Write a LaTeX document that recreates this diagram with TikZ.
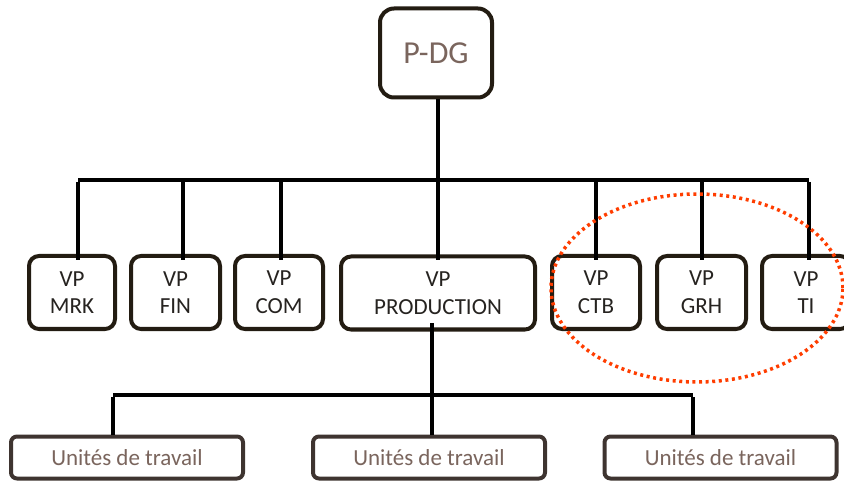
\documentclass[tikz,border=0pt]{standalone}
\usepackage{fontspec}
\setmainfont{Carlito}
\definecolor{boxedge}{HTML}{231C12}
\definecolor{unitedge}{HTML}{3E3430}
\definecolor{vptext}{HTML}{262320}
\definecolor{browntext}{HTML}{7A655D}
\definecolor{ringred}{HTML}{FF3D00}
\tikzset{
  orgbox/.style={draw=boxedge, line width=4pt, rounded corners=10pt, fill=white,
    inner sep=0pt, align=center, text=vptext,
    font=\fontsize{23}{27.6}\selectfont},
  vpbox/.style={orgbox, minimum height=73pt},
  topbox/.style={orgbox, rounded corners=14pt, minimum width=112pt, minimum height=89pt,
    text=browntext, font=\fontsize{32}{38}\selectfont},
  unitbox/.style={orgbox, draw=unitedge, rounded corners=6pt, minimum width=232pt,
    minimum height=42pt, text=browntext},
  wire/.style={line width=4pt, draw=black},
}
\begin{document}
\begin{tikzpicture}[x=1pt, y=-1pt]
  \useasboundingbox (0,0) rectangle (844,481);

  % president
  \node[topbox] (pdg) at (436,53) {P-DG};

  % vice-presidents
  \node[vpbox, minimum width=86pt]  (mrk)  at (72,292.5)    {VP\\MRK};
  \node[vpbox, minimum width=89pt]  (fin)  at (175.5,292.5) {VP\\FIN};
  \node[vpbox, minimum width=88pt]  (com)  at (279,292.5)   {VP\\COM};
  \node[vpbox, minimum width=194pt] (prod) at (438,293)     {VP\\PRODUCTION};
  \node[vpbox, minimum width=88pt]  (ctb)  at (596,292.5)   {VP\\CTB};
  \node[vpbox, minimum width=89pt]  (grh)  at (701.5,292.5) {VP\\GRH};
  \node[vpbox, minimum width=88pt]  (ti)   at (806,292.5)   {VP\\TI};

  % work units
  \node[unitbox] (u1) at (127,457.5)   {Unités de travail};
  \node[unitbox] (u2) at (429,457.5)   {Unités de travail};
  \node[unitbox] (u3) at (720.5,457.5) {Unités de travail};

  % upper bus
  \coordinate (bm) at (438,180);
  \coordinate (b1) at (78,180);
  \coordinate (b2) at (183,180);
  \coordinate (b3) at (281,180);
  \coordinate (b5) at (596,180);
  \coordinate (b6) at (702,180);
  \coordinate (b7) at (809,180);
  \draw[wire] (pdg.south -| bm) -- (bm);
  \draw[wire] (b1) -- (b7);
  \foreach \b/\n in {b1/mrk, b2/fin, b3/com, bm/prod, b5/ctb, b6/grh, b7/ti}
    \draw[wire] ([yshift=-2pt]\b) -- ([yshift=-6pt]\b |- \n.north);

  % lower bus
  \coordinate (lm) at (432,395);
  \coordinate (l1) at (113,395);
  \coordinate (l3) at (693,395);
  \draw[wire] ([yshift=8pt]prod.south -| lm) -- (lm);
  \draw[wire] (l1) -- (l3);
  \foreach \b/\n in {l1/u1, lm/u2, l3/u3}
    \draw[wire] ([yshift=-2pt]\b) -- (\b |- \n.north);

  % highlighted group
  \draw[ringred, line width=3.5pt, dash pattern=on 3pt off 3.6pt]
    (697,288) ellipse [x radius=146pt, y radius=94pt];
\end{tikzpicture}
\end{document}
